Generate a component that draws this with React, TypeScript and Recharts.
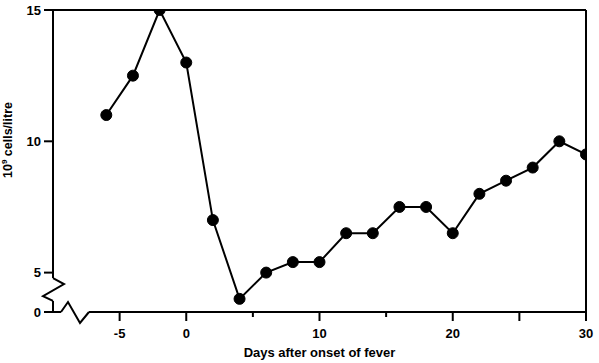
import React from 'react';
import { LineChart, Line, XAxis, YAxis, ReferenceLine } from 'recharts';

const days = [-6, -4, -2, 0, 2, 4, 6, 8, 10, 12, 14, 16, 18, 20, 22, 24, 26, 28, 30];
const cells = [11, 12.5, 15, 13, 7, 4, 5, 5.4, 5.4, 6.5, 6.5, 7.5, 7.5, 6.5, 8, 8.5, 9, 10, 9.5];
const xTicks = [-5, 0, 5, 10, 15, 20, 25, 30];
const xLabelled = [-5, 0, 10, 20, 30];
const yTicks = [3.5, 5, 10, 15];
const yTickLabels = ['0', '5', '10', '15'];

const data = days.map((d, i) => ({ day: d, value: cells[i] }));

const FONT = '"Liberation Sans", Arial, sans-serif';

const XTick = (props: any) => {
  const { x, y, payload } = props;
  const v = payload.value;
  const len = v === 5 || v === 15 ? 5 : 9;
  return (
    <g>
      <line x1={x} y1={y} x2={x} y2={y + len} stroke="#000" strokeWidth={2} />
      {xLabelled.includes(v) && (
        <text x={x} y={y + 26} textAnchor="middle" fontSize={13} fontWeight="bold" fontFamily={FONT} fill="#000">
          {v}
        </text>
      )}
    </g>
  );
};

// y ticks: x is the axis position (tickSize/margin 0)
const YTick = (props: any) => {
  const { x, y, payload } = props;
  const label = yTickLabels[yTicks.indexOf(payload.value)];
  return (
    <g>
      <line x1={x - 9} y1={y} x2={x} y2={y} stroke="#000" strokeWidth={2} />
      <text x={x - 12} y={y + 4.5} textAnchor="end" fontSize={13} fontWeight="bold" fontFamily={FONT} fill="#000">
        {label}
      </text>
    </g>
  );
};

// zigzag axis breaks
const yBreak = (p: any) => (
  <path
    d={`M${p.x1},${p.y1} L${p.x1 + 11},${p.y1 + 6} L${p.x1 - 10},${p.y1 + 18} L${p.x2},${p.y2}`}
    stroke="#000" strokeWidth={2} fill="none"
  />
);
const xBreak = (p: any) => (
  <path
    d={`M${p.x1},${p.y1} L${p.x1 + 7},${p.y1 - 10} L${p.x1 + 19},${p.y1 + 11} L${p.x2},${p.y2}`}
    stroke="#000" strokeWidth={2} fill="none"
  />
);

const YLabel = (props: any) => {
  const { viewBox } = props;
  const cx = 12;
  const cy = viewBox.y + 130;
  return (
    <text x={cx} y={cy} transform={`rotate(-90 ${cx} ${cy})`} textAnchor="middle" fontSize={12.5} fontWeight="bold" fontFamily={FONT} fill="#000">
      10<tspan fontSize={8} dy={-5}>9</tspan><tspan dy={5}> cells/litre</tspan>
    </text>
  );
};

export default function App() {
  return (
    <div style={{ position: 'absolute', left: 0, top: 0, background: '#fff' }}>
      <LineChart width={599} height={363} data={data} margin={{ top: 10, right: 13, left: 0, bottom: 0 }}>
        <XAxis
          dataKey="day"
          type="number"
          domain={[-10, 30]}
          ticks={xTicks}
          allowDataOverflow
          axisLine={false}
          tickLine={false}
          tickSize={0}
          tickMargin={0}
          height={51}
          tick={<XTick />}
          label={{ value: 'Days after onset of fever', position: 'insideBottom', offset: 6, fontSize: 13, fontWeight: 'bold', fontFamily: FONT, fill: '#000' }}
        />
        <YAxis
          type="number"
          domain={[3.5, 15]}
          ticks={yTicks}
          allowDataOverflow
          axisLine={false}
          tickLine={false}
          width={53}
          tickSize={0}
          tickMargin={0}
          tick={<YTick />}
          label={<YLabel />}
        />
        <ReferenceLine segment={[{ x: -10, y: 15 }, { x: -10, y: 4.79 }]} stroke="#000" strokeWidth={2} />
        <ReferenceLine segment={[{ x: -10, y: 4.79 }, { x: -10, y: 3.92 }]} shape={yBreak} />
        <ReferenceLine segment={[{ x: -10, y: 3.92 }, { x: -10, y: 3.5 }]} stroke="#000" strokeWidth={2} />
        <ReferenceLine segment={[{ x: -10, y: 3.5 }, { x: -9.4, y: 3.5 }]} stroke="#000" strokeWidth={2} />
        <ReferenceLine segment={[{ x: -9.4, y: 3.5 }, { x: -7.3, y: 3.5 }]} shape={xBreak} />
        <ReferenceLine segment={[{ x: -7.3, y: 3.5 }, { x: 30, y: 3.5 }]} stroke="#000" strokeWidth={2} />
        <ReferenceLine y={15} stroke="#000" strokeWidth={2} />
        <ReferenceLine x={30} stroke="#000" strokeWidth={2} />
        <Line
          dataKey="value"
          stroke="#000"
          strokeWidth={2}
          dot={{ r: 5.5, fill: '#000', stroke: '#000', strokeWidth: 1 }}
          isAnimationActive={false}
        />
      </LineChart>
    </div>
  );
}
